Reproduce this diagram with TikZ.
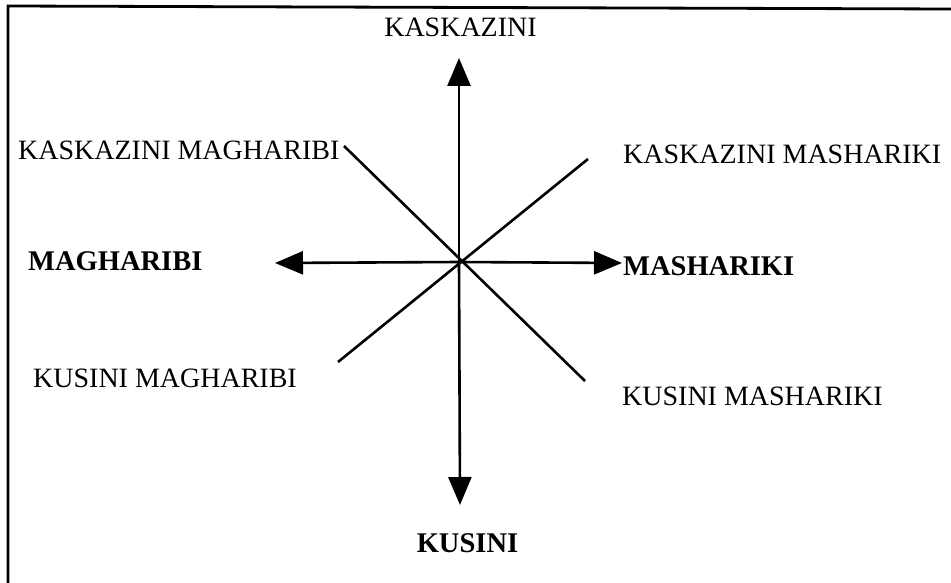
\documentclass[tikz,border=0pt]{standalone}
\usepackage{fontspec}
\setmainfont{Liberation Serif}
\usetikzlibrary{arrows.meta,positioning}

\tikzset{
  lbl/.style={anchor=base west,inner sep=0pt,font=\fontsize{28}{30}\selectfont},
  blbl/.style={lbl,font=\fontsize{28.5}{30}\selectfont\bfseries},
  ray/.style={line width=2.6pt},
}

\begin{document}
\begin{tikzpicture}[x=1pt,y=-1pt,>={Triangle[length=28pt,width=23pt]}]
  \useasboundingbox (0,0) rectangle (951,583);
  % frame (left and top edges only)
  \draw[line width=2.8pt] (8,583) -- (8,6) -- (951,9);

  \coordinate (c) at (459,262);
  \coordinate (n) at (459,58);
  \coordinate (s) at (460,505);
  \coordinate (w) at (275,263);
  \coordinate (e) at (622,263);
  \coordinate (nw) at (344,146);
  \coordinate (se) at (585,381);
  \coordinate (ne) at (588,159);
  \coordinate (sw) at (338,362);

  \foreach \t in {n,s,w,e} \draw[ray,->] (c) -- (\t);
  \draw[ray] (nw) -- (se);
  \draw[ray] (ne) -- (sw);

  \node[lbl,anchor=base] (kask) at (460.5,37) {KASKAZINI};
  \node[blbl,anchor=base] (kus) at (467.5,552) {KUSINI};
  \node[blbl] (mag) at (28,270) {MAGHARIBI};
  \node[blbl] (mash) at (623,275) {MASHARIKI};
  \node[lbl] (kmag) at (18,160) {KASKAZINI MAGHARIBI};
  \node[lbl] (kmash) at (623,164) {KASKAZINI MASHARIKI};
  \node[lbl] (kumag) at (33,387) {KUSINI MAGHARIBI};
  \node[lbl] (kumash) at (622,405) {KUSINI MASHARIKI};
\end{tikzpicture}
\end{document}
